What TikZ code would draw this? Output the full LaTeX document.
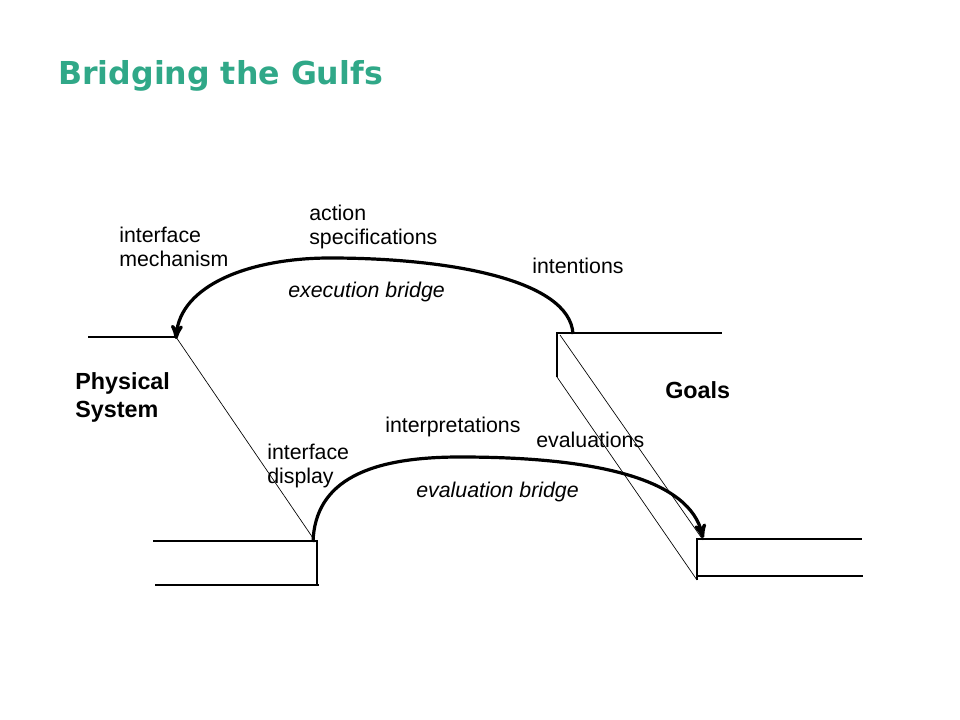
\documentclass[tikz,border=0pt]{standalone}
\usepackage{fontspec}
\setmainfont{Liberation Sans}
\newfontfamily\headfont{DejaVu Sans}
\usetikzlibrary{arrows,positioning}
\definecolor{gulfteal}{RGB}{48,168,136}
\tikzstyle{lbl}=[anchor=base west, inner sep=0pt, align=left, font=\fontsize{16}{18}\selectfont]
\tikzstyle{side}=[anchor=base west, inner sep=0pt, align=left, font=\fontsize{17.5}{21}\selectfont\bfseries]
\tikzstyle{ledge}=[line width=0.8pt]
\tikzstyle{slope}=[line width=0.5pt]
\tikzstyle{bridge}=[line width=2.4pt, -stealth']

\begin{document}
\begin{tikzpicture}
[x=0.75pt, y=-0.75pt]
 \useasboundingbox (0,0) rectangle (960,720);
 \node[anchor=base west, inner sep=0pt, text=gulfteal, font=\headfont\fontsize{23.7}{28}\selectfont\bfseries] (title) at (58,85) {Bridging the Gulfs};
 % physical system side
 \coordinate (pTopL) at (88,337);
 \coordinate (pTopR) at (176,337);
 \coordinate (pLowL) at (153,541);
 \coordinate (pLowR) at (317,541);
 \coordinate (pBotL) at (155,585);
 \coordinate (pBotR) at (319,585);
 \coordinate (pSlope) at (315,541);
 % goals side
 \coordinate (gTopL) at (557,333);
 \coordinate (gTopR) at (722,333);
 \coordinate (gStep) at (557,377);
 \coordinate (gLowL) at (697,539);
 \coordinate (gLowR) at (862,539);
 \coordinate (gFoot) at (697,580);
 \coordinate (gBotL) at (697,576);
 \coordinate (gBotR) at (863,576);
 \coordinate (gEdge) at (560,335);
 \coordinate (gEdgeEnd) at (703,540);
 % bridge ends
 \coordinate (execStart) at (573,334);
 \coordinate (execTop) at (330,258);
 \coordinate (execEnd) at (176,339);
 \coordinate (evalStart) at (313,542);
 \coordinate (evalTop) at (460,457);
 \coordinate (evalEnd) at (703,538);

 \draw[ledge] (pTopL) -- (pTopR);
 \draw[ledge] (pLowL) -- (pLowR) -- (pBotR -| pLowR);
 \draw[ledge] (pBotL) -- (pBotR);
 \draw[slope] (pTopR) -- (pSlope);
 \draw[ledge] (gStep) -- (gTopL) -- (gTopR);
 \draw[ledge] (gFoot) -- (gLowL) -- (gLowR);
 \draw[ledge] (gBotL) -- (gBotR);
 \draw[slope] (gStep) -- (gFoot);
 \draw[slope] (gEdge) -- (gEdgeEnd);

 \draw[bridge] (execStart) .. controls (570,280) and (450,258) .. (execTop)
   .. controls (250,258) and (180,285) .. (execEnd);
 \draw[bridge] (evalStart) .. controls (315,480) and (370,457) .. (evalTop)
   .. controls (600,457) and (690,480) .. (evalEnd);

 \node[lbl] (mech) at (119,267) {interface\\mechanism};
 \node[lbl] (spec) at (309,245) {action\\specifications};
 \node[lbl] (intent) at (532,274) {intentions};
 \node[lbl, font=\fontsize{16}{18}\selectfont\itshape] (execb) at (288,297) {execution bridge};
 \node[side] (phys) at (75,417) {Physical\\System};
 \node[side] (goals) at (665,398) {Goals};
 \node[lbl] (interp) at (385,432) {interpretations};
 \node[lbl] (evals) at (536,447) {evaluations};
 \node[lbl] (disp) at (267,483) {interface\\display};
 \node[lbl, font=\fontsize{16}{18}\selectfont\itshape] (evalb) at (416,497) {evaluation bridge};
\end{tikzpicture}
\end{document}
